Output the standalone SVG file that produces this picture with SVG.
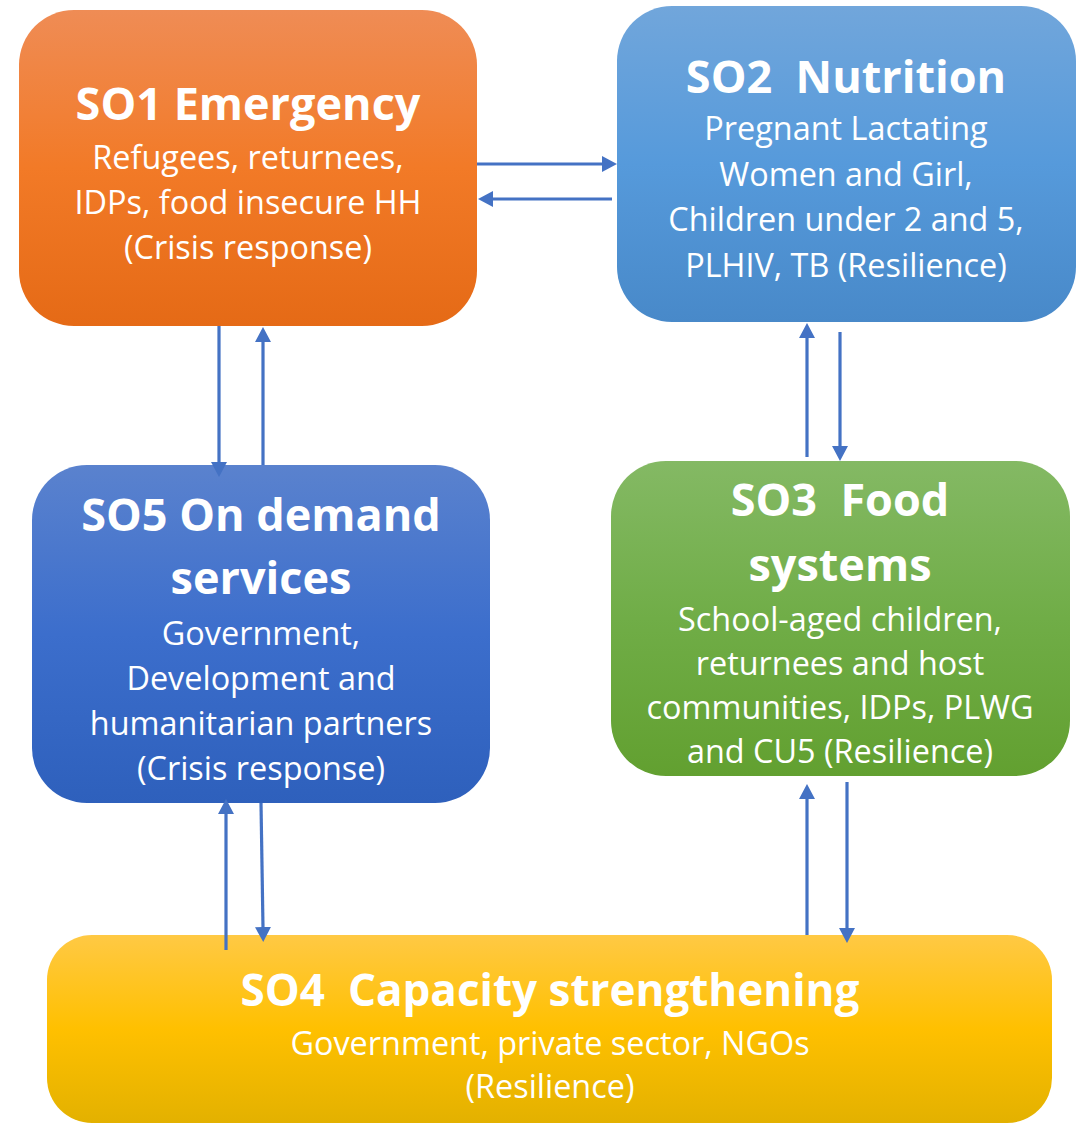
<svg xmlns="http://www.w3.org/2000/svg" width="1078" height="1124" viewBox="0 0 1078 1124">
<defs>
<linearGradient id="gOrange" x1="0" y1="0" x2="0" y2="1"><stop offset="0" stop-color="#EF8C55"/><stop offset="0.5" stop-color="#F27A27"/><stop offset="1" stop-color="#E56A16"/></linearGradient>
<linearGradient id="gLBlue" x1="0" y1="0" x2="0" y2="1"><stop offset="0" stop-color="#71A6DB"/><stop offset="0.5" stop-color="#569ADB"/><stop offset="1" stop-color="#4889C9"/></linearGradient>
<linearGradient id="gBlue" x1="0" y1="0" x2="0" y2="1"><stop offset="0" stop-color="#5A82CE"/><stop offset="0.5" stop-color="#3C6ECC"/><stop offset="1" stop-color="#2E60BC"/></linearGradient>
<linearGradient id="gGreen" x1="0" y1="0" x2="0" y2="1"><stop offset="0" stop-color="#84B964"/><stop offset="0.5" stop-color="#70AD47"/><stop offset="1" stop-color="#62A030"/></linearGradient>
<linearGradient id="gYellow" x1="0" y1="0" x2="0" y2="1"><stop offset="0" stop-color="#FFC944"/><stop offset="0.5" stop-color="#FFC000"/><stop offset="1" stop-color="#E3B100"/></linearGradient>
<marker id="arr" markerUnits="userSpaceOnUse" markerWidth="16" markerHeight="16" viewBox="0 0 16 16" refX="1" refY="8" orient="auto"><path d="M0,0 L15,8 L0,16 z" fill="#4472C4"/></marker>
<style>
.t{font-family:"Open Sans","Liberation Sans",sans-serif;fill:#FFFFFF;text-anchor:middle;font-weight:700;font-size:45px}
.b{font-family:"Open Sans","Liberation Sans",sans-serif;fill:#FFFFFF;text-anchor:middle;font-size:32.4px}
.c{stroke:#4472C4;stroke-width:3.2;fill:none;marker-end:url(#arr)}
</style>
</defs>
<g id="so1">
<rect x="19" y="10" width="458" height="316" rx="55" fill="url(#gOrange)"/>
<text class="t" x="248" y="120">SO1 Emergency</text>
<text class="b" x="248" y="169">Refugees, returnees,</text>
<text class="b" x="248" y="214">IDPs, food insecure HH</text>
<text class="b" x="248" y="259">(Crisis response)</text>
</g>
<g id="so2">
<rect x="617" y="6" width="459" height="316" rx="55" fill="url(#gLBlue)"/>
<text class="t" x="846" y="93" xml:space="preserve">SO2  Nutrition</text>
<text class="b" x="846" y="140">Pregnant Lactating</text>
<text class="b" x="846" y="186">Women and Girl,</text>
<text class="b" x="846" y="231">Children under 2 and 5,</text>
<text class="b" x="846" y="277">PLHIV, TB (Resilience)</text>
</g>
<g id="so5">
<rect x="32" y="465" width="458" height="338" rx="55" fill="url(#gBlue)"/>
<text class="t" x="261" y="531">SO5 On demand</text>
<text class="t" x="261" y="594">services</text>
<text class="b" x="261" y="645">Government,</text>
<text class="b" x="261" y="690">Development and</text>
<text class="b" x="261" y="735">humanitarian partners</text>
<text class="b" x="261" y="780">(Crisis response)</text>
</g>
<g id="so3">
<rect x="611" y="461" width="459" height="315" rx="55" fill="url(#gGreen)"/>
<text class="t" x="840" y="516" xml:space="preserve">SO3  Food</text>
<text class="t" x="840" y="581">systems</text>
<text class="b" x="840" y="631">School-aged children,</text>
<text class="b" x="840" y="675">returnees and host</text>
<text class="b" x="840" y="719">communities, IDPs, PLWG</text>
<text class="b" x="840" y="763">and CU5 (Resilience)</text>
</g>
<g id="so4">
<rect x="47" y="935" width="1005" height="188" rx="45" fill="url(#gYellow)"/>
<text class="t" x="550" y="1006" xml:space="preserve" style="font-size:44px">SO4  Capacity strengthening</text>
<text class="b" x="550" y="1055">Government, private sector, NGOs</text>
<text class="b" x="550" y="1098">(Resilience)</text>
</g>
<g id="connectors">
<line class="c" x1="477" y1="164" x2="603" y2="164"/>
<line class="c" x1="612" y1="199" x2="492" y2="199"/>
<line class="c" x1="219" y1="326" x2="219" y2="463"/>
<line class="c" x1="263" y1="465" x2="263" y2="341"/>
<line class="c" x1="807" y1="457" x2="807" y2="337"/>
<line class="c" x1="840" y1="332" x2="840" y2="447"/>
<line class="c" x1="226" y1="950" x2="226" y2="813"/>
<line class="c" x1="261" y1="803" x2="263" y2="928"/>
<line class="c" x1="807" y1="935" x2="807" y2="798"/>
<line class="c" x1="847" y1="782" x2="847" y2="929"/>
</g>
</svg>
